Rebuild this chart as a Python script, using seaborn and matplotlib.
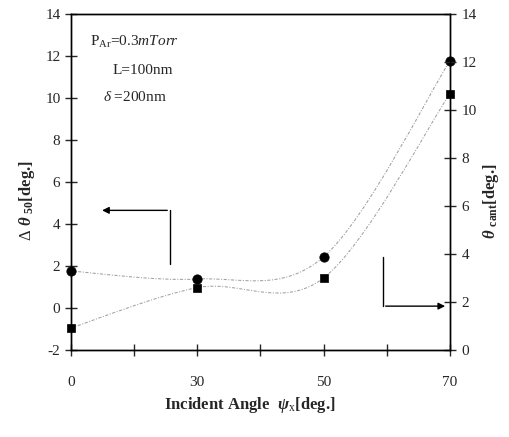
import numpy as np
import pandas as pd
import matplotlib
matplotlib.use("Agg")
import matplotlib.pyplot as plt
from matplotlib.path import Path
from matplotlib.patches import PathPatch
import seaborn as sns

# --- data ---
angles = [0, 30, 50, 70]                 # incident angle psi_x [deg.]
delta_theta50 = [1.76, 1.38, 2.43, 11.76]  # left axis, circles
theta_cant = [0.92, 2.6, 3.0, 10.67]       # right axis, squares
tick_labels = ["0", "", "30", "", "50", "", "70"]

# categories are evenly spaced, with blank slots between them
pos = np.arange(len(angles)) * 2
df = pd.DataFrame({"pos": pos, "angle": angles,
                   "d50": delta_theta50, "cant": theta_cant})


def smooth_line(ax, xs, ys, **kw):
    # spreadsheet-style smoothed line (Catmull-Rom as cubic Bezier)
    p = np.column_stack([xs, ys]).astype(float)
    n = len(p)
    verts, codes = [p[0]], [Path.MOVETO]
    for i in range(n - 1):
        p0, p1, p2, p3 = p[max(i - 1, 0)], p[i], p[i + 1], p[min(i + 2, n - 1)]
        verts += [p1 + (p2 - p0) / 6, p2 - (p3 - p1) / 6, p2]
        codes += [Path.CURVE4] * 3
    ax.add_patch(PathPatch(Path(verts, codes), facecolor="none", **kw))


sns.set_style("ticks")
plt.rcParams["font.family"] = ["Liberation Serif", "DejaVu Serif"]
plt.rcParams["axes.unicode_minus"] = False
plt.rcParams["mathtext.fontset"] = "custom"
plt.rcParams["mathtext.rm"] = "Liberation Serif"
plt.rcParams["mathtext.it"] = "Liberation Serif:italic:bold"
plt.rcParams["mathtext.bf"] = "Liberation Serif:bold"
plt.rcParams["mathtext.sf"] = "Liberation Serif:italic"

fig = plt.figure(figsize=(5.1, 4.37), dpi=100)
ax = fig.add_axes([0.139, 0.199, 0.743, 0.769])
ax2 = ax.twinx()

line_kw = dict(edgecolor="#a0a0a0", linewidth=0.75, linestyle=(0, (3, 1.5, 1, 1.5)))
smooth_line(ax, df.pos, df.d50, **line_kw)
smooth_line(ax2, df.pos, df.cant, **line_kw)

sns.scatterplot(data=df, x="pos", y="d50", ax=ax, marker="o", s=45,
                color="black", edgecolor="black", zorder=5, legend=False, clip_on=False)
sns.scatterplot(data=df, x="pos", y="cant", ax=ax2, marker="s", s=38,
                color="black", edgecolor="black", zorder=5, legend=False, clip_on=False)

ax.set_xlim(0, 6)
ax.set_ylim(-2, 14)
ax2.set_ylim(0, 14)
ax.set_xticks(range(7))
ax.set_xticklabels(tick_labels)
ax.set_yticks(range(-2, 15, 2))
ax2.set_yticks(range(0, 15, 2))

for a in (ax, ax2):
    for s in a.spines.values():
        s.set_linewidth(1.0)
        s.set_color("black")
ax.tick_params(axis="x", direction="inout", length=9, width=1, pad=14, labelsize=11)
ax.tick_params(axis="y", direction="inout", length=9, width=1, pad=3, labelsize=11)
ax2.tick_params(axis="y", direction="inout", length=9, width=1, pad=4, labelsize=11)
ax.set_xlabel("")
ax.set_ylabel("")
ax2.set_ylabel("")

fig.text(0.49, 0.073, r"Incident Angle  $\psi$$_{\rm x}$[deg.]", ha="center", va="center",
         fontsize=12, fontweight="bold")
fig.text(0.052, 0.54, r"$\Delta\ \theta$ $_{\mathbf{50}}$[deg.]", ha="center", va="center",
         rotation=90, fontsize=12, fontweight="bold")
fig.text(0.962, 0.54, r"$\theta$ $_{\mathbf{cant}}$[deg.]", ha="center", va="center",
         rotation=90, fontsize=12, fontweight="bold")

# condition annotations
ax.text(0.05, 0.905, r"P$_{\rm Ar}$=0.3$\mathsf{mTorr}$", transform=ax.transAxes, fontsize=11)
ax.text(0.11, 0.82, "L=100nm", transform=ax.transAxes, fontsize=11)
ax.text(0.085, 0.74, r"$\mathsf{\delta}$ =200nm", transform=ax.transAxes, fontsize=11)

# axis indicator arrows
arr = dict(arrowstyle="-|>", color="black", lw=1.0, mutation_scale=10)
ax.plot([1.57, 1.57], [2.08, 4.65], color="black", lw=1.0)
ax.annotate("", xy=(0.45, 4.65), xytext=(1.57, 4.65), arrowprops=arr)
ax.plot([4.94, 4.94], [0.09, 2.42], color="black", lw=1.0)
ax.annotate("", xy=(5.97, 0.09), xytext=(4.94, 0.09), arrowprops=arr)

fig.savefig("out.png", dpi=100)
